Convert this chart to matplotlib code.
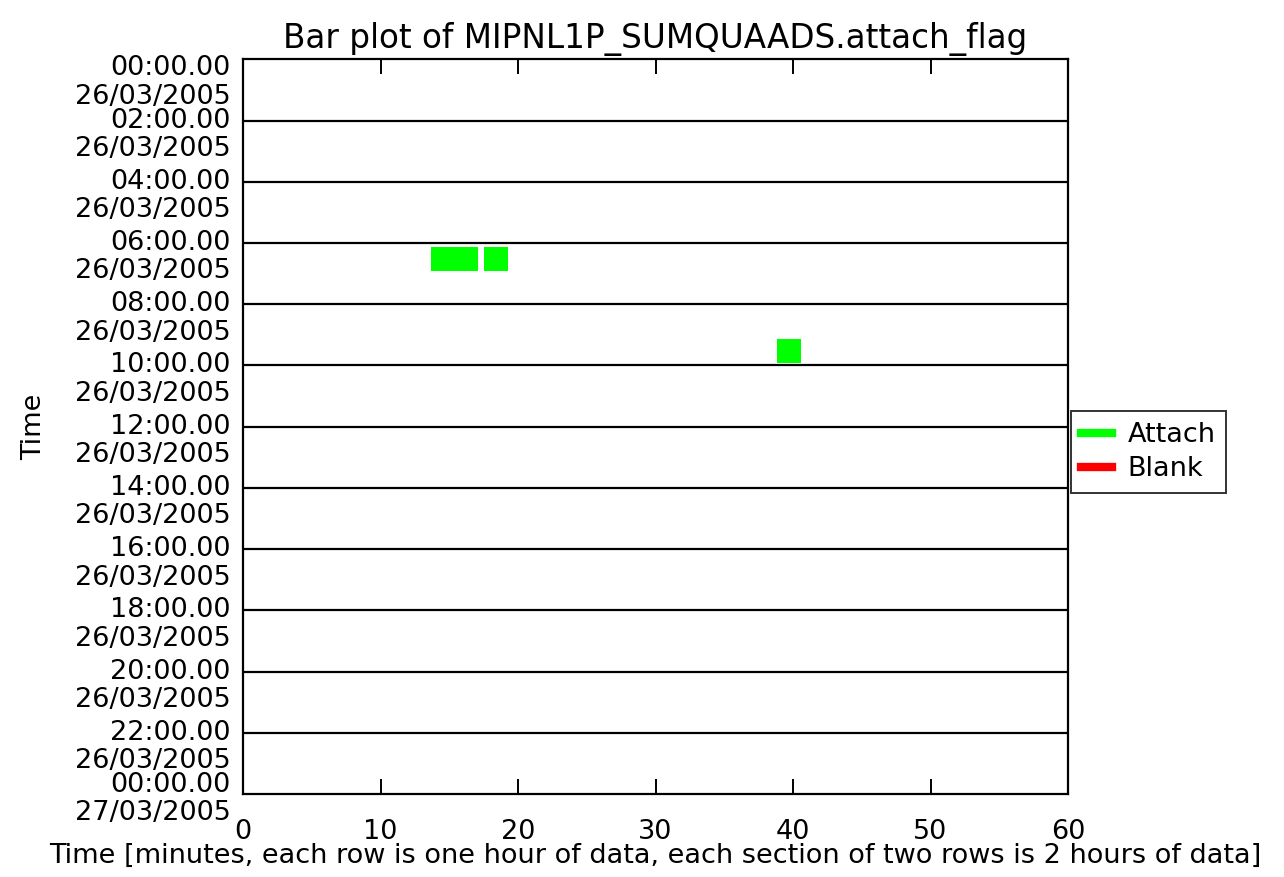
import matplotlib
matplotlib.use('Agg')
import matplotlib.pyplot as plt
import matplotlib.transforms as mtransforms
from matplotlib.lines import Line2D

# attach_flag samples: hour row (0 = 00:00), start minute, width in minutes
attach_rows = [6, 6, 9]
attach_start = [13.65, 17.53, 38.86]
attach_width = [3.46, 1.75, 1.75]

section_hours = list(range(0, 25, 2))
section_times = ['00:00.00', '02:00.00', '04:00.00', '06:00.00', '08:00.00',
                 '10:00.00', '12:00.00', '14:00.00', '16:00.00', '18:00.00',
                 '20:00.00', '22:00.00', '00:00.00']
section_dates = ['26/03/2005'] * 12 + ['27/03/2005']
minute_ticks = [0, 10, 20, 30, 40, 50, 60]

plt.rcParams['font.family'] = 'DejaVu Sans'
fs = 19.5

fig = plt.figure(figsize=(12.84, 8.77), dpi=100)
ax = fig.add_axes([0.1893, 0.0946, 0.6425, 0.8378])

for r, s, w in zip(attach_rows, attach_start, attach_width):
    ax.broken_barh([(s, w)], (r + 0.13, 0.8), facecolors='#00ff00')

for h in section_hours[1:-1]:
    ax.axhline(h, color='black', lw=1.6)

ax.set_xlim(0, 60)
ax.set_ylim(24, 0)

ax.set_xticks(minute_ticks, labels=[str(m) for m in minute_ticks], fontsize=fs)
ax.tick_params(axis='x', direction='in', top=True, bottom=True, length=11,
               width=1.4, pad=18)
ax.set_yticks(section_hours,
              labels=[f'{t}\n{d}' for t, d in zip(section_times, section_dates)],
              fontsize=fs)
ax.tick_params(axis='y', length=0, pad=9)

# put the time line of each label on its section boundary
labels = ax.get_yticklabels()
for i, lab in enumerate(labels):
    lab.set_verticalalignment('top')
    lab.set_linespacing(1.12)
    up = 13
    if i == 0:
        up = 4
    elif i == len(labels) - 1:
        up = 22
    lab.set_transform(lab.get_transform() +
                      mtransforms.ScaledTranslation(0, up / 100, fig.dpi_scale_trans))

for sp in ax.spines.values():
    sp.set_linewidth(1.6)

ax.set_title('Bar plot of MIPNL1P_SUMQUAADS.attach_flag', fontsize=23.5, pad=8)
ax.set_ylabel('Time', fontsize=fs, labelpad=20)
ax.set_xlabel('Time [minutes, each row is one hour of data, each section of two rows is 2 hours of data]',
              fontsize=fs)
ax.xaxis.set_label_coords(0.5, -0.066)

handles = [Line2D([], [], color='#00ff00', lw=6),
           Line2D([], [], color='#ff0000', lw=6)]
leg = ax.legend(handles, ['Attach', 'Blank'], loc='center left',
                bbox_to_anchor=(1.003, 0.465), fontsize=fs, frameon=True,
                fancybox=False, handlelength=1.15, handletextpad=0.55,
                borderpad=0.4, labelspacing=0.3, borderaxespad=0)
leg.get_frame().set_edgecolor('black')
leg.get_frame().set_linewidth(1.4)

fig.savefig('out.png', dpi=100)
